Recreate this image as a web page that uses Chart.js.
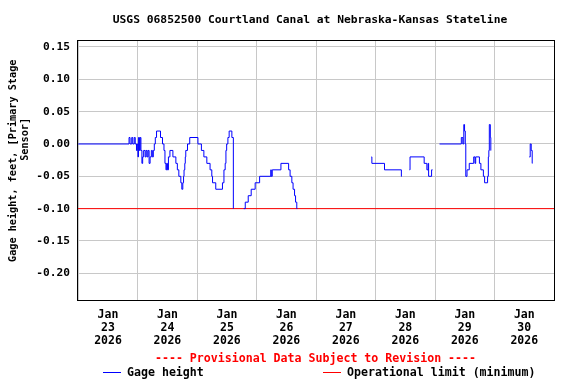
<!DOCTYPE html>
<html>
<head>
<meta charset="utf-8">
<script src="https://cdn.jsdelivr.net/npm/chart.js@4"></script>
<style>
body { margin: 0; background: #fff; }
</style>
</head>
<body>
<canvas id="gageChart" width="576" height="384"></canvas>
<script>
// hours since Jan 23 2026 00:00 ; a null value marks a gap in the record
var gageHours = [
  0, 20.5, 20.9, 21.6, 22.0, 22.6, 23.0, 23.5, 23.8, 24.1,
  24.3, 24.7, 25.0, 25.3, 25.7, 26.0, 26.4, 27.0, 27.4, 27.8,
  28.2, 28.6, 29.0, 29.5, 29.9, 30.3, 30.7, 31.1, 31.6, 33.2,
  34.0, 34.6, 35.0, 35.4, 35.7, 36.0, 36.4, 37.0, 38.2, 39.4,
  40.0, 40.6, 41.4, 41.8, 42.2, 42.5, 42.7, 43.0, 43.2, 43.4,
  44.1, 45.0, 48.3, 49.7, 50.7, 51.9, 53.2, 53.9, 54.2, 55.5,
  58.2, 58.8, 59.3, 59.6, 59.9, 60.4, 60.9, 62.0, 62.6,
  64,
  66.8, 67.4, 68.6, 69.8, 71.4, 73.2, 77.7, 77.9, 78.3, 81.8,
  84.9, 85.5, 86.2, 86.7, 87.3, 87.7, 88.2, 88.4,
  100,
  118.3, 118.5, 123.6, 130.4, 130.6,
  132,
  133.7, 133.9, 139.6, 140.7, 141.2, 141.4, 142.6, 143.0,
  144.5,
  145.8, 154.6, 155.2, 155.6, 155.9, 156.2, 156.4, 156.9, 157.8, 159.6,
  160.1, 160.4, 161.9, 162.5, 163.5, 164.0, 165.2, 165.5, 165.7, 165.9,
  166.3, 166.5, 166.6,
  175,
  182.0, 182.4, 182.8, 183.2, 183.3
];
var gageValues = [
  0.00, 0.01, 0.00, 0.01, 0.00, 0.01, 0.00, -0.01, 0.00, -0.02,
  0.01, -0.01, 0.01, -0.01, -0.03, -0.02, -0.01, -0.02, -0.01, -0.02,
  -0.01, -0.03, -0.02, -0.01, -0.02, -0.01, 0.00, 0.01, 0.02, 0.01,
  0.00, -0.01, -0.03, -0.04, -0.03, -0.04, -0.02, -0.01, -0.02, -0.03,
  -0.04, -0.05, -0.06, -0.07, -0.06, -0.05, -0.04, -0.03, -0.02, -0.01,
  0.00, 0.01, 0.00, -0.01, -0.02, -0.03, -0.04, -0.05, -0.06, -0.07,
  -0.06, -0.04, -0.03, -0.01, 0.00, 0.01, 0.02, 0.01, -0.10,
  null,
  -0.10, -0.09, -0.08, -0.07, -0.06, -0.05, -0.04, -0.05, -0.04, -0.03,
  -0.04, -0.05, -0.06, -0.07, -0.08, -0.09, -0.10, -0.10,
  null,
  -0.02, -0.03, -0.04, -0.05, -0.05,
  null,
  -0.04, -0.02, -0.03, -0.04, -0.03, -0.05, -0.04, -0.04,
  null,
  0.00, 0.01, 0.00, 0.03, 0.02, 0.00, -0.05, -0.04, -0.03, -0.02,
  -0.03, -0.02, -0.03, -0.04, -0.05, -0.06, -0.05, -0.02, -0.01, 0.03,
  0.01, -0.01, -0.01,
  null,
  -0.02, 0.00, -0.01, -0.03, -0.03
];
var limitValue = -0.10;
var dayLabels = ['23', '24', '25', '26', '27', '28', '29', '30'];
var monthLabel = 'Jan';
var yearLabel = '2026';
var xTicks = [0, 12, 24, 36, 48, 60, 72, 84, 96, 108, 120, 132, 144, 156, 168, 180, 192];
var yTicks = [0.15, 0.10, 0.05, 0.00, -0.05, -0.10, -0.15, -0.20];
var xMin = -0.5, xMax = 192;
var yMin = -0.2413, yMax = 0.1608;

var MONO = '"DejaVu Sans Mono", "Liberation Mono", monospace';

var gagePoints = gageHours.map(function (h, i) { return { x: h, y: gageValues[i] }; });
var limitPoints = [{ x: xMin, y: limitValue }, { x: xMax, y: limitValue }];

var usgsDecor = {
  id: 'usgsDecor',
  afterDatasetsDraw: function (chart) {
    var a = chart.chartArea, ctx = chart.ctx;
    ctx.save();
    ctx.strokeStyle = '#000';
    ctx.lineWidth = 1;
    ctx.strokeRect(a.left + 0.5, a.top + 0.5, a.right - a.left, a.bottom - a.top);
    ctx.restore();
  },
  afterDraw: function (chart) {
    var a = chart.chartArea, ctx = chart.ctx;
    var ds = chart.data.datasets;
    ctx.save();
    ctx.textBaseline = 'middle';
    ctx.font = 'bold 11.3px ' + MONO;
    ctx.fillStyle = '#000';
    ctx.textAlign = 'center';
    ctx.fillText('USGS 06852500 Courtland Canal at Nebraska-Kansas Stateline', 310, 20.5);

    ctx.font = 'bold 11.6px ' + MONO;
    ctx.fillStyle = '#ff0000';
    ctx.fillText('---- Provisional Data Subject to Revision ----', (a.left + a.right) / 2, 359);

    // legend
    var items = [{ ds: ds[0], x: 103 }, { ds: ds[1], x: 323 }];
    ctx.textAlign = 'left';
    items.forEach(function (it) {
      ctx.strokeStyle = it.ds.borderColor;
      ctx.lineWidth = 1;
      ctx.beginPath();
      ctx.moveTo(it.x, 372.5);
      ctx.lineTo(it.x + 18, 372.5);
      ctx.stroke();
      ctx.fillStyle = '#000';
      ctx.fillText(it.ds.label, it.x + 24, 373);
    });
    ctx.restore();
  }
};

new Chart(document.getElementById('gageChart').getContext('2d'), {
  type: 'line',
  data: {
    datasets: [
      {
        label: 'Gage height',
        data: gagePoints,
        borderColor: '#0000ff',
        borderWidth: 1,
        pointRadius: 0,
        stepped: true,
        spanGaps: false,
        fill: false
      },
      {
        label: 'Operational limit (minimum)',
        data: limitPoints,
        borderColor: '#ff0000',
        borderWidth: 1,
        pointRadius: 0,
        fill: false
      }
    ]
  },
  options: {
    responsive: false,
    animation: false,
    layout: { padding: { left: 0, right: 22, top: 40, bottom: 0 } },
    plugins: {
      legend: { display: false },
      title: { display: false },
      tooltip: { enabled: false }
    },
    scales: {
      x: {
        type: 'linear',
        min: xMin,
        max: xMax,
        afterBuildTicks: function (axis) {
          axis.ticks = xTicks.map(function (v) { return { value: v }; });
        },
        afterFit: function (axis) { axis.height = 84; },
        border: { display: false },
        grid: {
          drawTicks: false,
          lineWidth: 1,
          color: function (c) {
            return c.tick && c.tick.value % 24 === 0 ? '#c8c8c8' : 'rgba(0,0,0,0)';
          }
        },
        ticks: {
          autoSkip: false,
          maxRotation: 0,
          padding: 9,
          color: '#000',
          font: { family: MONO, size: 11.5, weight: 'bold', lineHeight: 1.13 },
          callback: function (v) {
            if (v % 24 !== 12) return '';
            return [monthLabel, dayLabels[Math.floor(v / 24)], yearLabel];
          }
        }
      },
      y: {
        min: yMin,
        max: yMax,
        afterBuildTicks: function (axis) {
          axis.ticks = yTicks.map(function (v) { return { value: v }; });
        },
        afterFit: function (axis) { axis.width = 77; },
        border: { display: false },
        grid: { drawTicks: false, color: '#c8c8c8', lineWidth: 1 },
        ticks: {
          padding: 7,
          color: '#000',
          font: { family: MONO, size: 11.2, weight: 'bold' },
          callback: function (v) { return Number(v).toFixed(2); }
        },
        title: {
          display: true,
          text: ['   Gage height, feet, [Primary Stage', '          Sensor]'],
          color: '#000',
          padding: { top: 7, bottom: 0 },
          font: { family: MONO, size: 10.2, weight: 'bold', lineHeight: 1.2 }
        }
      }
    }
  },
  plugins: [usgsDecor]
});
</script>
</body>
</html>
